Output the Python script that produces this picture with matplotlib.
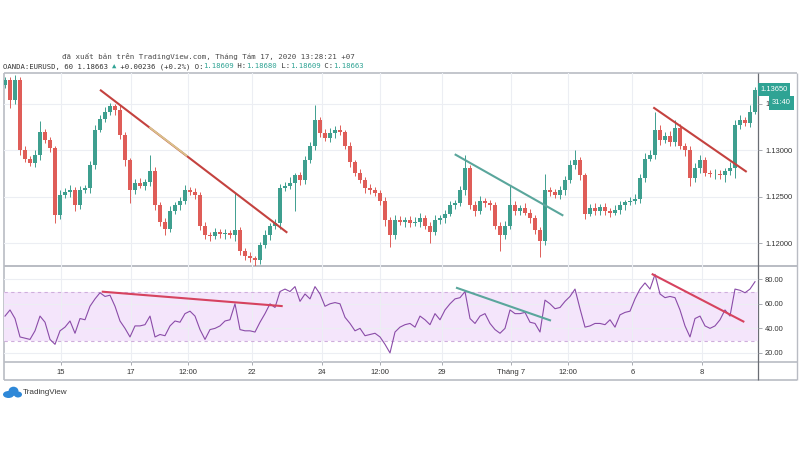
import numpy as np
import matplotlib
matplotlib.use("Agg")
import matplotlib.pyplot as plt
from matplotlib.patches import Ellipse

# ---------------- data ----------------
first_open = 1.1370
closes = [
    1.1375, 1.1354, 1.1375, 1.1300, 1.1291, 1.1286, 1.1295, 1.1319, 1.1311, 1.1302,
    1.1230, 1.1252, 1.1255, 1.1257, 1.1241, 1.1257, 1.1259, 1.1284, 1.1322, 1.1334,
    1.1341, 1.1347, 1.1343, 1.1316, 1.1289, 1.1257, 1.1265, 1.1262, 1.1266, 1.1278,
    1.1241, 1.1223, 1.1216, 1.1235, 1.1241, 1.1246, 1.1257, 1.1255, 1.1252, 1.1219,
    1.1209, 1.1208, 1.1212, 1.1210, 1.1211, 1.1209, 1.1214, 1.1192, 1.1187, 1.1184,
    1.1182, 1.1198, 1.1209, 1.1219, 1.1222, 1.1259, 1.1262, 1.1265, 1.1273, 1.1268,
    1.1289, 1.1305, 1.1332, 1.1318, 1.1313, 1.1318, 1.1322, 1.1319, 1.1305, 1.1287,
    1.1276, 1.1268, 1.1259, 1.1257, 1.1254, 1.1246, 1.1225, 1.1209, 1.1225, 1.1223,
    1.1225, 1.1222, 1.1223, 1.1227, 1.1219, 1.1212, 1.1225, 1.1227, 1.1232, 1.1241,
    1.1243, 1.1257, 1.1281, 1.1241, 1.1235, 1.1246, 1.1243, 1.1241, 1.1219, 1.1209,
    1.1219, 1.1241, 1.1235, 1.1238, 1.1233, 1.1227, 1.1214, 1.1203, 1.1257, 1.1255,
    1.1252, 1.1257, 1.1268, 1.1284, 1.1289, 1.1273, 1.1232, 1.1238, 1.1235, 1.1239,
    1.1235, 1.1233, 1.1236, 1.1241, 1.1244, 1.1246, 1.1248, 1.1270, 1.1291, 1.1295,
    1.1322, 1.1311, 1.1315, 1.1309, 1.1324, 1.1305, 1.1300, 1.1270, 1.1281, 1.1289,
    1.1276, 1.1274, 1.1275, 1.1273, 1.1278, 1.1281, 1.1327, 1.1332, 1.1329, 1.1341,
    1.1365]
wick_up_pips = [
    4, 3, 6, 3, 4, 3, 5, 12, 4, 3,
    3, 5, 4, 6, 3, 5, 4, 4, 5, 4,
    5, 4, 3, 5, 4, 3, 4, 5, 3, 17,
    4, 3, 4, 5, 3, 4, 6, 3, 4, 3,
    4, 3, 5, 3, 4, 3, 40, 4, 3, 4,
    3, 4, 5, 3, 4, 5, 4, 6, 3, 4,
    5, 4, 16, 4, 5, 6, 4, 5, 3, 4,
    3, 4, 3, 5, 4, 3, 4, 3, 5, 4,
    3, 4, 5, 6, 3, 4, 5, 3, 4, 5,
    4, 5, 14, 3, 4, 5, 3, 4, 3, 4,
    5, 21, 4, 3, 5, 4, 3, 4, 18, 4,
    3, 5, 4, 6, 11, 4, 3, 4, 5, 3,
    4, 3, 5, 4, 3, 4, 5, 4, 6, 5,
    19, 5, 4, 6, 8, 4, 3, 4, 5, 6,
    4, 3, 5, 4, 3, 6, 5, 6, 4, 7,
    3]
wick_dn_pips = [
    3, 9, 4, 5, 4, 3, 4, 5, 3, 4,
    8, 4, 3, 5, 6, 4, 3, 5, 4, 3,
    4, 3, 5, 4, 6, 14, 4, 3, 5, 4,
    5, 4, 7, 4, 3, 5, 4, 3, 4, 5,
    4, 5, 3, 4, 5, 3, 6, 4, 5, 4,
    6, 4, 3, 5, 4, 6, 3, 4, 30, 5,
    4, 3, 5, 4, 3, 4, 5, 3, 4, 5,
    4, 3, 5, 4, 3, 5, 6, 13, 4, 3,
    5, 4, 3, 5, 4, 12, 3, 4, 5, 3,
    4, 3, 5, 4, 6, 3, 4, 5, 4, 17,
    4, 3, 5, 4, 3, 5, 4, 18, 5, 4,
    3, 4, 5, 3, 4, 5, 6, 3, 4, 5,
    4, 5, 3, 4, 5, 3, 4, 5, 4, 3,
    4, 5, 3, 4, 5, 4, 6, 8, 4, 5,
    4, 3, 5, 4, 7, 5, 11, 4, 3, 4,
    2]
rsi = [
    50, 55, 48, 33, 32, 31, 38, 50, 45, 31,
    27, 38, 41, 46, 36, 48, 47, 58, 64, 69,
    66, 67, 58, 46, 40, 33, 42, 42, 43, 50,
    33, 35, 34, 42, 46, 45, 52, 54, 50, 39,
    31, 39, 40, 42, 46, 47, 60, 39, 38, 38,
    37, 45, 52, 60, 57, 70, 72, 70, 74, 62,
    68, 64, 74, 68, 58, 60, 61, 60, 49, 44,
    38, 40, 34, 35, 36, 33, 27, 20, 37, 41,
    43, 44, 41, 50, 47, 43, 52, 47, 55, 60,
    64, 65, 70, 48, 44, 50, 52, 44, 39, 36,
    40, 55, 52, 52, 53, 45, 44, 37, 63, 60,
    56, 57, 62, 66, 72, 56, 41, 42, 44, 44,
    43, 47, 41, 51, 53, 54, 64, 72, 77, 72,
    84, 68, 65, 66, 65, 55, 42, 33, 48, 50,
    42, 40, 42, 47, 55, 50, 72, 71, 69, 72,
    78]

price_ticks = [1.120, 1.125, 1.130, 1.135]
price_tick_labels = ["1.12000", "1.12500", "1.13000", "1."]  # last one is mostly hidden behind the countdown box
rsi_ticks = [20, 40, 60, 80]
time_tick_pos = [11.2, 25.2, 36.67, 49.33, 63.3, 75.0, 87.33, 101.2, 112.67, 125.47, 139.4]
time_tick_labels = ["15", "17", "12:00", "22", "24", "12:00", "29", "Tháng 7", "12:00", "6", "8"]

# trend lines (bar index, value)
price_red_1 = ([19.0, 56.46], [1.13648, 1.12115])
price_red_1_hl = ([29.0, 36.3], [1.13240, 1.12942])
price_teal = ([89.94, 111.66], [1.12957, 1.12298])
price_red_2 = ([129.66, 148.34], [1.13459, 1.12767])
rsi_red_1 = ([19.34, 55.54], [69.9, 58.1])
rsi_teal = ([90.2, 109.2], [73.2, 46.3])
rsi_red_2 = ([129.34, 147.86], [84.4, 45.2])

header_1 = "đã xuất bản trên TradingView.com, Tháng Tám 17, 2020 13:28:21 +07"
header_2_parts = [("OANDA:EURUSD, 60 1.18663 ", "dark"), ("▲", "teal"),
                  (" +0.00236 (+0.2%) O:", "dark"), ("1.18609", "teal"),
                  (" H:", "dark"), ("1.18680", "teal"), (" L:", "dark"),
                  ("1.18609", "teal"), (" C:", "dark"), ("1.18663", "teal")]
countdown = "31:40"

# ---------------- styling ----------------
UP = "#3e9f8f"
DN = "#df5d58"
TEAL = "#2fa394"
GRID = "#eceef3"
FRAME = "#b9bcc3"
AXFONT = "Liberation Sans"
MONO = ["DejaVu Sans Mono", "DejaVu Sans", "Noto Sans"]

closes_a = np.array(closes)
opens_a = np.concatenate([[first_open], closes_a[:-1]])
highs_a = np.maximum(opens_a, closes_a) + np.array(wick_up_pips) * 1e-4
lows_a = np.minimum(opens_a, closes_a) - np.array(wick_dn_pips) * 1e-4
xi = np.arange(len(closes_a))
cols = [UP if c >= o else DN for o, c in zip(opens_a, closes_a)]

fig = plt.figure(figsize=(8, 4.5), dpi=100, facecolor="white")

# overlay for frame, header and logo (pixel coordinates)
ov = fig.add_axes([0, 0, 1, 1], zorder=-1)
ov.set_xlim(0, 800)
ov.set_ylim(450, 0)
ov.axis("off")

W = 800.0
H = 450.0
ax = fig.add_axes([4 / W, 1 - 265.5 / H, 754 / W, 192.5 / H])
rx = fig.add_axes([4 / W, 1 - 362 / H, 754 / W, 96.5 / H])
for a in (ax, rx):
    a.set_facecolor("none")
    for s in a.spines.values():
        s.set_visible(False)
    a.set_xlim(-0.2, 150.6)
    a.set_axisbelow(True)

# ---- price pane ----
ax.set_ylim(1.117634, 1.138280)
ax.vlines(xi, lows_a, highs_a, colors=cols, lw=0.7, zorder=2)
ax.bar(xi, np.maximum(np.abs(closes_a - opens_a), 0.00005),
       bottom=np.minimum(opens_a, closes_a), width=0.62, color=cols,
       linewidth=0, zorder=3)
ax.plot(*price_red_1, color="#c4423f", lw=1.5, solid_capstyle="butt", zorder=4)
ax.plot(*price_red_1_hl, color="#dcdc98", lw=1.3, alpha=0.85, zorder=5)
ax.plot(*price_teal, color="#5aa69c", lw=1.5, solid_capstyle="butt", zorder=4)
ax.plot(*price_red_2, color="#c4423f", lw=1.5, solid_capstyle="butt", zorder=4)

ax.yaxis.tick_right()
ax.set_yticks(price_ticks)
ax.set_yticklabels(price_tick_labels)
ax.set_xticks(time_tick_pos)
ax.tick_params(axis="x", length=0, labelbottom=False)
ax.tick_params(axis="y", length=3, width=0.6, color="#9a9da5", pad=2,
               labelsize=5.4, labelcolor="#333333")
for t in ax.get_yticklabels():
    t.set_family(AXFONT)
ax.grid(True, color=GRID, lw=0.8)

blend = ax.get_yaxis_transform()
ax.annotate(f"{closes[-1]:.5f}", xy=(1, closes[-1]), xycoords=blend,
            xytext=(1.6, 0), textcoords="offset points", ha="left", va="center",
            fontsize=5.4, family=AXFONT, color="white",
            bbox=dict(boxstyle="square,pad=0.35", fc=TEAL, ec="none"),
            zorder=10, annotation_clip=False)
ax.annotate(countdown, xy=(1, closes[-1]), xycoords=blend,
            xytext=(10.2, -9.6), textcoords="offset points", ha="left", va="center",
            fontsize=5.4, family=AXFONT, color="white",
            bbox=dict(boxstyle="square,pad=0.45", fc=TEAL, ec="none"),
            zorder=10, annotation_clip=False)

# ---- RSI pane ----
rx.set_ylim(12.6, 91.2)
rx.axhspan(30, 70, color="#f4e5fb", lw=0, zorder=0.5)
rx.axhline(70, color="#cfaedc", lw=0.8, dashes=(3, 3), zorder=1)
rx.axhline(30, color="#cfaedc", lw=0.8, dashes=(3, 3), zorder=1)
rx.plot(xi, rsi, color="#8a4ca8", lw=0.8, zorder=3)
rx.plot(*rsi_red_1, color="#d6435f", lw=1.5, solid_capstyle="butt", zorder=4)
rx.plot(*rsi_teal, color="#5aa69c", lw=1.5, solid_capstyle="butt", zorder=4)
rx.plot(*rsi_red_2, color="#d6435f", lw=1.5, solid_capstyle="butt", zorder=4)
rx.yaxis.tick_right()
rx.set_yticks(rsi_ticks)
rx.set_yticklabels([f"{v:.2f}" for v in rsi_ticks])
rx.set_xticks(time_tick_pos)
rx.set_xticklabels(time_tick_labels)
rx.tick_params(axis="y", length=3, width=0.6, color="#9a9da5", pad=2,
               labelsize=5.4, labelcolor="#333333")
rx.tick_params(axis="x", length=2, width=0.6, color="#9a9da5", pad=3,
               labelsize=5.5, labelcolor="#333333")
for t in rx.get_yticklabels() + rx.get_xticklabels():
    t.set_family(AXFONT)
rx.grid(True, color=GRID, lw=0.8)

# ---- frame ----
for (x0, y0, x1, y1, c, lw) in [
        (4, 73, 797, 73, FRAME, 1.2), (4, 265.5, 797, 265.5, FRAME, 1.4),
        (4, 362, 797, 362, FRAME, 1.2), (4, 380, 797, 380, FRAME, 1.2),
        (4, 73, 4, 380, FRAME, 1.2), (797, 73, 797, 380, FRAME, 1.0),
        (758, 73, 758, 380, "#6a6d74", 0.9)]:
    ov.plot([x0, x1], [y0, y1], color=c, lw=lw, solid_capstyle="butt")

# ---- header ----
ov.text(62, 56, header_1, family=MONO, fontsize=5.4, color="#4a4a4a",
        ha="left", va="center")
fs2 = 5.2
cw = 0.6021 * fs2 / 72 * 100
pos = 3.0
for txt, kind in header_2_parts:
    ov.text(pos, 66.5, txt, family=MONO, fontsize=fs2,
            color=(TEAL if kind == "teal" else "#333333"), ha="left", va="center")
    pos += len(txt) * cw

# ---- logo ----
for (cx, cy, w, h) in [(8.5, 394.5, 11, 7), (13.5, 391.2, 10, 9), (18, 394.5, 8, 6)]:
    ov.add_patch(Ellipse((cx, cy), w, h, color="#2e88d8", lw=0))
ov.text(22.5, 393, "TradingView", family=AXFONT, fontsize=5.9, color="#3a3a3a",
        ha="left", va="center")

fig.savefig("out.png", dpi=100, facecolor="white")
